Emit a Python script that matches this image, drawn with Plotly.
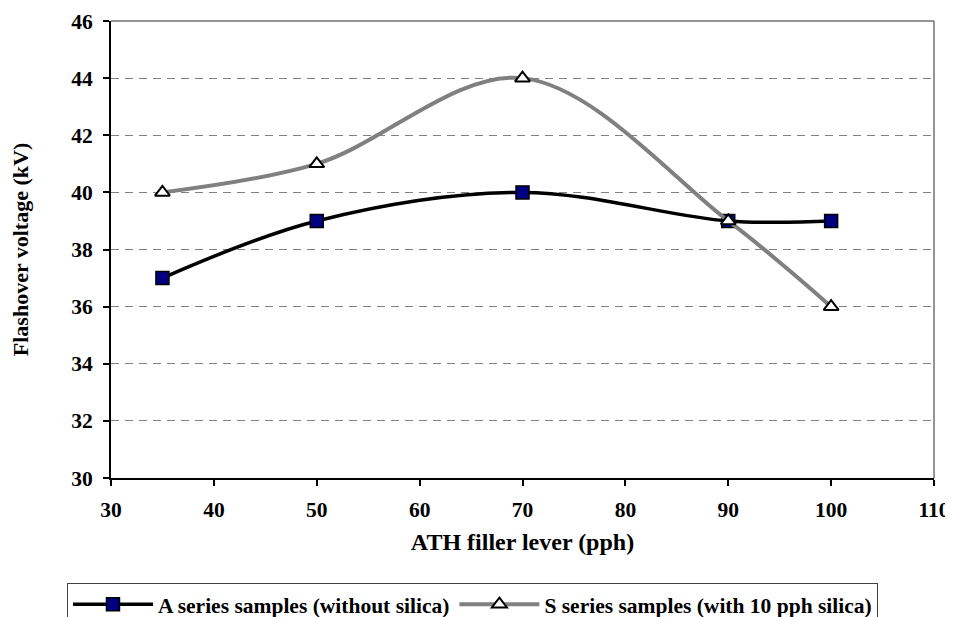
import plotly.graph_objects as go

filler = [35, 50, 70, 90, 100]
a_series = [37, 39, 40, 39, 39]
s_series = [40, 41, 44, 39, 36]
a_name = "A series samples (without silica)"
s_name = "S series samples (with 10 pph silica)"
x_ticks = [30, 40, 50, 60, 70, 80, 90, 100, 110]
y_ticks = [30, 32, 34, 36, 38, 40, 42, 44, 46]

FONT = "'Liberation Serif', 'Times New Roman', serif"

fig = go.Figure()
fig.add_trace(go.Scatter(
    x=filler, y=a_series, name=a_name, mode="lines+markers",
    line=dict(color="black", width=3.5, shape="spline", smoothing=1),
    marker=dict(symbol="square", size=13, color="#000080",
                line=dict(color="black", width=1.5)),
))
fig.add_trace(go.Scatter(
    x=filler, y=s_series, name=s_name, mode="lines+markers",
    line=dict(color="#808080", width=4, shape="spline", smoothing=1),
    marker=dict(symbol="triangle-up", size=13, color="white",
                line=dict(color="black", width=2)),
))

# gray top and right frame
fig.add_shape(type="line", xref="paper", yref="paper", x0=0, x1=1, y0=1, y1=1,
              line=dict(color="#707070", width=1.5))
fig.add_shape(type="line", xref="paper", yref="paper", x0=1, x1=1, y0=0, y1=1,
              line=dict(color="#707070", width=1.5))

# page body has an 8px margin: figure is sized/offset to compensate
fig.update_layout(
    width=945, height=609,
    margin=dict(l=103, r=19, t=13, b=139, autoexpand=False),
    paper_bgcolor="white", plot_bgcolor="white",
    font=dict(family=FONT, size=22, color="black", weight="bold"),
    showlegend=True,
    legend=dict(
        orientation="h", x=-0.0535, y=-0.229, xanchor="left", yanchor="top",
        bordercolor="#404040", borderwidth=1, bgcolor="white",
        font=dict(family=FONT, size=21.5, color="black", weight="bold"),
        itemwidth=80, tracegroupgap=0,
    ),
)
fig.update_xaxes(
    range=[30, 110], tickvals=x_ticks, ticktext=[str(v) for v in x_ticks],
    showgrid=False, zeroline=False, automargin=False,
    showline=True, linecolor="black", linewidth=2,
    ticks="outside", ticklen=6, tickcolor="black", tickwidth=1.5,
    ticklabelstandoff=5,
    tickfont=dict(family=FONT, size=21.5, color="black", weight="bold"),
    title=dict(text="ATH filler lever (pph)", standoff=12,
               font=dict(family=FONT, size=24, color="black", weight="bold")),
)
fig.update_yaxes(
    range=[30, 46], tickvals=y_ticks, ticktext=[str(v) for v in y_ticks],
    showgrid=True, gridcolor="#808080", gridwidth=1, griddash="8px,6px",
    zeroline=False, automargin=False,
    showline=True, linecolor="black", linewidth=2,
    ticks="outside", ticklen=6, tickcolor="black", tickwidth=1.5,
    ticklabelstandoff=6,
    tickfont=dict(family=FONT, size=21.5, color="black", weight="bold"),
    title=dict(text="Flashover voltage (kV)", standoff=38,
               font=dict(family=FONT, size=22, color="black", weight="bold")),
)

fig.write_html(
    "out.html",
    post_script="document.documentElement.style.overflow='hidden';"
                "document.body.style.overflow='hidden';",
)
